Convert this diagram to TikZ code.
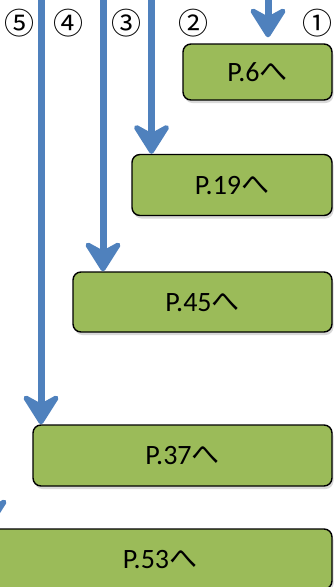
\documentclass[tikz,border=0pt]{standalone}
\usepackage{fontspec}
\setmainfont{Carlito}
\newfontfamily\jpfont{Noto Sans CJK JP}
\usetikzlibrary{arrows.meta, positioning, shadows}
\definecolor{arrowblue}{HTML}{4F81BD}
\definecolor{boxgreen}{HTML}{9BBB59}

\begin{document}
\begin{tikzpicture}[x=1pt, y=-1pt]
\tikzstyle{pagebox} = [rectangle, rounded corners=8pt, inner sep=0pt, text centered, draw=black, line width=1.4pt, fill=boxgreen, drop shadow={shadow xshift=1.5pt, shadow yshift=-3pt, opacity=0.3}, font=\fontsize{28}{28}\selectfont]
\tikzstyle{number} = [inner sep=0pt, font=\jpfont\fontsize{30}{30}\selectfont]
\tikzstyle{goto} = [draw=arrowblue, line width=7pt, -{Stealth[length=35pt, width=44pt, inset=12pt, round, line width=5pt]}]

\useasboundingbox (0,0) rectangle (333,587);

% Page boxes
\node (p6) [pagebox, minimum width=149pt, minimum height=56pt] at (257.5,72) {P.6{\jpfont へ}};
\node (p19) [pagebox, minimum width=200pt, minimum height=61pt] at (232,185) {P.19{\jpfont へ}};
\node (p45) [pagebox, minimum width=259pt, minimum height=60pt] at (202.5,302) {P.45{\jpfont へ}};
\node (p37) [pagebox, minimum width=299pt, minimum height=61pt] at (182.5,455.5) {P.37{\jpfont へ}};
\node (p53) [pagebox, minimum width=344pt, minimum height=60pt] at (160,559) {P.53{\jpfont へ}};

% Route numbers
\node (n5) [number] at (20,23) {⑤};
\node (n4) [number] at (68,23) {④};
\node (n3) [number] at (126,23) {③};
\node (n2) [number] at (193,23) {②};
\node (n1) [number] at (317,23) {①};

% Arrows down to the pages
\coordinate (a1) at (268,-2);
\coordinate (a2) at (-11,-2);
\coordinate (a3) at (151.5,-2);
\coordinate (a4) at (103,-2);
\coordinate (a5) at (41,-2);
\draw[goto] (a1) -- ([yshift=6pt]a1 |- p6.north);
\draw[goto] (a3) -- (a3 |- p19.north);
\draw[goto] (a4) -- (a4 |- p45.north);
\draw[goto] (a5) -- (a5 |- p37.north);
\draw[goto] (a2) -- (a2 |- p53.north);

\end{tikzpicture}
\end{document}
